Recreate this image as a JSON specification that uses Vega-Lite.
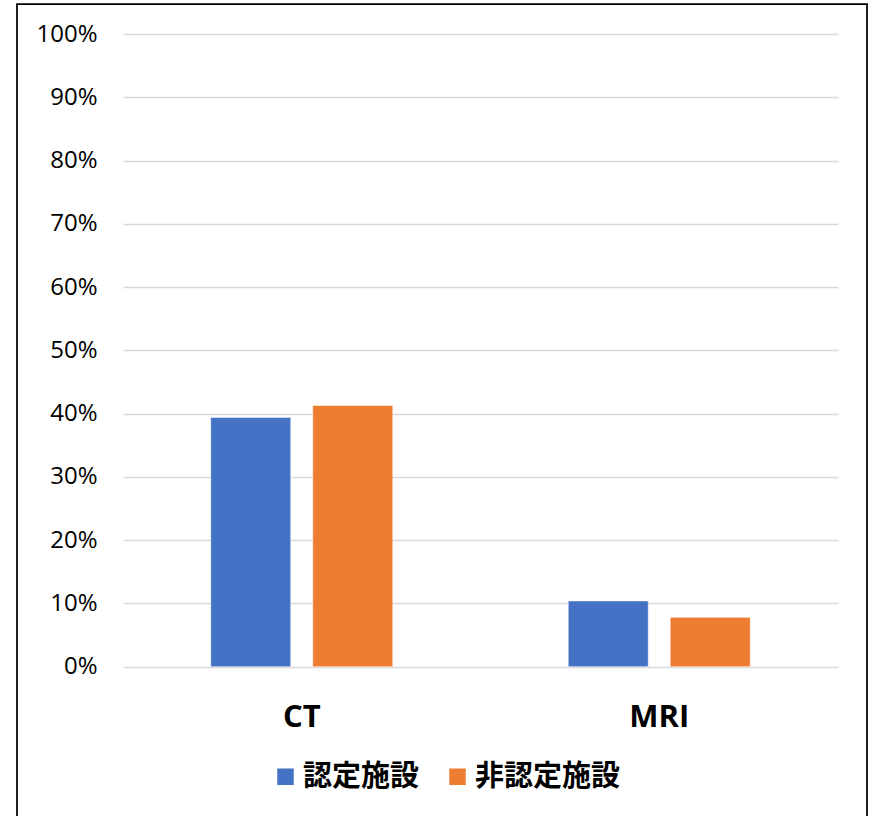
{
  "$schema": "https://vega.github.io/schema/vega-lite/v6.json",
  "width": 850,
  "height": 815,
  "autosize": {"type": "none"},
  "padding": {"left": 17, "top": 4, "right": 8, "bottom": 0},
  "background": "white",
  "config": {
    "view": {"stroke": "#000000", "strokeWidth": 1.75},
    "font": "Open Sans"
  },
  "data": {
    "values": [
      {"modality": "CT", "facility": "認定施設", "share": 0.394},
      {"modality": "CT", "facility": "非認定施設", "share": 0.413},
      {"modality": "MRI", "facility": "認定施設", "share": 0.104},
      {"modality": "MRI", "facility": "非認定施設", "share": 0.078}
    ]
  },
  "mark": {"type": "bar", "stroke": "white", "strokeWidth": 0.5},
  "encoding": {
    "x": {
      "field": "modality",
      "type": "nominal",
      "sort": ["CT", "MRI"],
      "scale": {"range": [106, 821], "paddingInner": 0, "paddingOuter": 0},
      "axis": {
        "title": null,
        "orient": "bottom",
        "offset": -102,
        "domain": false,
        "ticks": false,
        "grid": false,
        "labelAngle": 0,
        "labelPadding": 0,
        "labelBaseline": "middle",
        "labelFont": "Open Sans",
        "labelFontWeight": "bold",
        "labelFontSize": 31,
        "labelColor": "#000000"
      }
    },
    "xOffset": {
      "field": "facility",
      "type": "nominal",
      "sort": ["認定施設", "非認定施設"],
      "scale": {"paddingInner": 0.2157, "paddingOuter": 0.86}
    },
    "y": {
      "field": "share",
      "type": "quantitative",
      "scale": {"domain": [0, 1], "range": [662.7, 30.2], "nice": false, "zero": true},
      "axis": {
        "title": null,
        "values": [0, 0.1, 0.2, 0.3, 0.4, 0.5, 0.6, 0.7, 0.8, 0.9, 1],
        "format": ".0%",
        "offset": -85,
        "labelPadding": 5,
        "domain": false,
        "ticks": false,
        "grid": true,
        "gridColor": "#d9d9d9",
        "gridWidth": 1.5,
        "labelFont": "Open Sans",
        "labelFontSize": 24,
        "labelColor": "#000000"
      }
    },
    "color": {
      "field": "facility",
      "type": "nominal",
      "sort": ["認定施設", "非認定施設"],
      "scale": {"domain": ["認定施設", "非認定施設"], "range": ["#4472C4", "#ED7D31"]},
      "legend": {
        "title": null,
        "orient": "none",
        "direction": "horizontal",
        "legendX": 254,
        "legendY": 758,
        "padding": 0,
        "symbolType": "square",
        "symbolSize": 272,
        "symbolStrokeWidth": 0,
        "labelFont": "Noto Sans CJK JP",
        "labelFontSize": 29,
        "labelFontWeight": "bold",
        "labelColor": "#000000",
        "labelOffset": 3,
        "columnPadding": 23,
        "labelLimit": 300
      }
    }
  }
}
